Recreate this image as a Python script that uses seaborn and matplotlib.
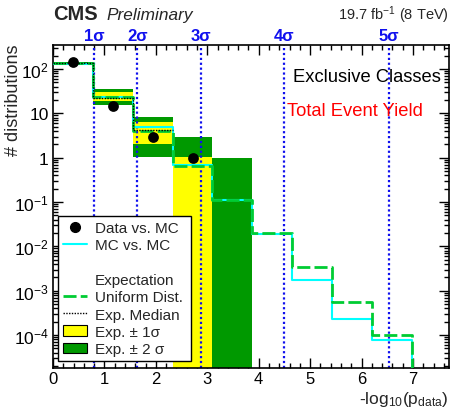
import numpy as np
import matplotlib
matplotlib.use("Agg")
import matplotlib.pyplot as plt
import seaborn as sns
from matplotlib.lines import Line2D
from matplotlib.patches import Patch
from matplotlib.ticker import FixedLocator, FuncFormatter, MultipleLocator, LogLocator, NullFormatter
from matplotlib.transforms import blended_transform_factory

# ---- data -------------------------------------------------------------
bin_edges = [0.0, 0.775, 1.55, 2.325, 3.1, 3.875, 4.65, 5.425, 6.2, 6.975, 7.75]
data_counts = [144, 15, 3, 1]
mc_vs_mc = [131, 24, 5.0, 0.69, 0.11, 0.019, 0.0017, 2.3e-4, 7.9e-5, 0]
uniform_dist = [135, 23, 4.1, 0.66, 0.11, 0.020, 0.0035, 5.6e-4, 1.0e-4, 0]
exp_median = [134, 22, 4.3]
band1_lo = [130, 18.7, 2.0, 0, 0]
band1_hi = [140, 30, 6.5, 1.05, 0]
band2_lo = [126, 15.2, 1.05, 0, 0]
band2_hi = [145, 35, 8.4, 3.0, 1.0]
sigma_pos = [0.80, 1.64, 2.87, 4.50, 6.54]
sigma_labels = ["1σ", "2σ", "3σ", "4σ", "5σ"]
ytick_vals = [1e-4, 1e-3, 1e-2, 1e-1, 1, 10, 100]

# ---- style ------------------------------------------------------------
sns.set_theme(style="ticks")
plt.rcParams["font.family"] = ["Liberation Sans", "DejaVu Sans"]
plt.rcParams["mathtext.fontset"] = "custom"
plt.rcParams["mathtext.rm"] = "Liberation Sans"
plt.rcParams["mathtext.it"] = "Liberation Sans:italic"
plt.rcParams["mathtext.bf"] = "Liberation Sans:bold"

YELLOW = "#ffff00"
GREEN_BAND = "#009900"
GREEN_LINE = "#00cc33"
CYAN = "#00ffff"
BLUE = "#1010ee"

fig = plt.figure(figsize=(4.53, 4.14), dpi=100)
W, H = 453, 414
ax = fig.add_axes([53 / W, 1 - 369 / H, 396 / W, 323 / H])
ax.set_yscale("log")

edges = np.array(bin_edges)
widths = np.diff(edges)
centers = edges[:-1] + widths / 2

# expectation bands
nb = len(band2_hi)
ax.bar(edges[:nb], np.array(band2_hi) - np.array(band2_lo), bottom=band2_lo,
       width=widths[:nb], align="edge", color=GREEN_BAND, linewidth=0, zorder=1)
ax.bar(edges[:nb], np.array(band1_hi) - np.array(band1_lo), bottom=band1_lo,
       width=widths[:nb], align="edge", color=YELLOW, linewidth=0, zorder=1.1)

# uniform expectation and MC vs MC step histograms
sns.histplot(x=centers, weights=uniform_dist, bins=bin_edges, element="step",
             fill=False, color=GREEN_LINE, linewidth=2.0, linestyle=(0, (4.7, 1.5)),
             ax=ax, zorder=3)
sns.histplot(x=centers, weights=mc_vs_mc, bins=bin_edges, element="step",
             fill=False, color=CYAN, linewidth=1.5, ax=ax, zorder=2.9)
nm = len(exp_median)
sns.histplot(x=centers[:nm], weights=exp_median, bins=bin_edges[:nm + 1], element="step",
             fill=False, color="black", linewidth=1.0, linestyle=(0, (1, 1)),
             ax=ax, zorder=3.1)

# significance markers
for pos in sigma_pos:
    ax.axvline(pos, color=BLUE, linestyle=(0, (1, 1.2)), linewidth=1.6, zorder=2.5)
trans = blended_transform_factory(ax.transData, ax.transAxes)
for pos, lab in zip(sigma_pos, sigma_labels):
    ax.text(pos, 1.016, lab, transform=trans, ha="center", va="baseline",
            color=BLUE, fontsize=12, fontweight="bold")

# data points
nd = len(data_counts)
sns.scatterplot(x=centers[:nd], y=data_counts, ax=ax, color="black", s=60,
                edgecolor="black", linewidth=0, zorder=5)

# axes
ax.set_xlim(0, 7.7)
ax.set_ylim(1.8e-5, 350)
ax.set_xlabel("")
ax.set_ylabel("")
ax.xaxis.set_major_locator(MultipleLocator(1))
ax.xaxis.set_minor_locator(MultipleLocator(0.2))
ax.yaxis.set_major_locator(FixedLocator(ytick_vals))
ax.yaxis.set_minor_locator(LogLocator(base=10, subs=np.arange(2, 10)))
ax.yaxis.set_minor_formatter(NullFormatter())


def ylab(v, _):
    e = int(round(np.log10(v)))
    if e == 0:
        return "1"
    if e == 1:
        return "10"
    return r"$10^{%d}$" % e


ax.yaxis.set_major_formatter(FuncFormatter(ylab))
ax.tick_params(which="both", direction="in", top=True, right=True,
               labelsize=12.5, colors="black", width=1.0)
ax.tick_params(which="major", length=7, pad=3)
ax.tick_params(axis="x", which="major", labelsize=12, pad=2.5)
ax.tick_params(which="minor", length=3.5)
for s in ax.spines.values():
    s.set_visible(True)
    s.set_linewidth(1.2)
    s.set_color("black")

# legend
handles = [
    Line2D([], [], marker="o", color="black", linestyle="none", markersize=7),
    Line2D([], [], color=CYAN, linewidth=1.5),
    Line2D([], [], color="none"),
    Line2D([], [], color="none"),
    Line2D([], [], color=GREEN_LINE, linewidth=2.0, linestyle=(0, (4.7, 1.5))),
    Line2D([], [], color="black", linewidth=1.0, linestyle=(0, (1, 1))),
    Patch(facecolor=YELLOW, edgecolor="black", linewidth=0.8),
    Patch(facecolor=GREEN_BAND, edgecolor="black", linewidth=0.8),
]
labels = ["Data vs. MC", "MC vs. MC", " ", "Expectation", "Uniform Dist.",
          "Exp. Median", "Exp. ± 1σ", "Exp. ± 2 σ"]
leg = ax.legend(handles, labels, loc="lower left",
                bbox_to_anchor=(5 / 396, 7 / 323, 133 / 396, 151 / 323),
                mode="expand", borderaxespad=0, fontsize=11, frameon=True,
                fancybox=False, framealpha=1, edgecolor="black",
                handlelength=1.6, handletextpad=0.5, labelspacing=0.22,
                borderpad=0.3)
leg.get_frame().set_linewidth(1.0)
leg.set_zorder(10)

# annotations
ax.text(240 / 396, 0.901, "Exclusive Classes", transform=ax.transAxes,
        ha="left", va="center", fontsize=13.2, color="black")
ax.text(234 / 396, 0.796, "Total Event Yield", transform=ax.transAxes,
        ha="left", va="center", fontsize=13.2, color="#ff0000")

fig.text(53 / W, 1 - 20 / H, "CMS", fontsize=14.5, fontweight="bold",
         ha="left", va="baseline")
fig.text(106 / W, 1 - 20 / H, "Preliminary", fontsize=12.4, fontstyle="italic",
         ha="left", va="baseline")
fig.text(449 / W, 1 - 20 / H, r"19.7 fb$^{-1}$ (8 TeV)", fontsize=10.5,
         ha="right", va="baseline")
fig.text(449 / W, 1 - 404 / H, r"-log$_{10}$(p$_{\mathregular{data}}$)",
         fontsize=12.5, ha="right", va="baseline")
fig.text(14 / W, 1 - 45 / H, "# distributions", fontsize=13, rotation=90,
         ha="center", va="top")

fig.savefig("out.png", dpi=100)
